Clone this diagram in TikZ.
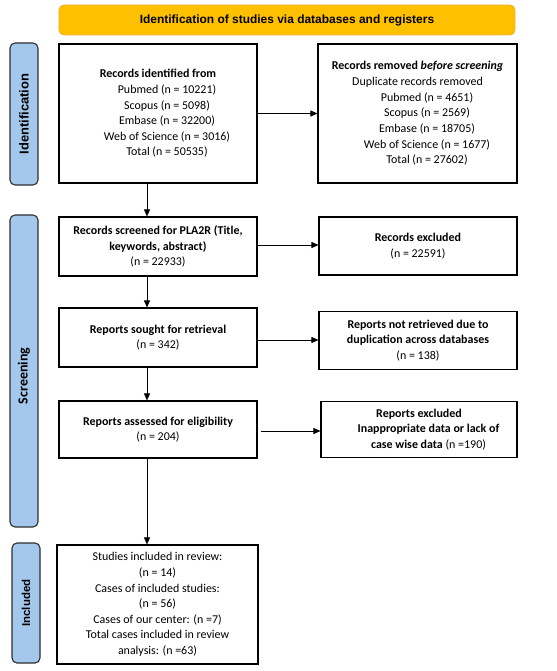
\documentclass[tikz,border=0pt]{standalone}
\usepackage{fontspec}
\setmainfont{Carlito}
\newfontfamily\arialf{Liberation Sans}
\usetikzlibrary{arrows.meta,positioning,calc}
\definecolor{hdrfill}{HTML}{FFC000}
\definecolor{hdrdraw}{HTML}{E8B23A}
\definecolor{sidefill}{HTML}{A4C8EC}
\definecolor{sidedraw}{HTML}{2F2F2F}
\begin{document}
\begin{tikzpicture}[x=1bp,y=-1bp,
  box/.style={draw=black,line width=1.1bp,fill=white,align=center,inner sep=0pt,
    font=\fontsize{12}{15.7}\selectfont},
  side/.style={draw=sidedraw,fill=sidefill,line width=1.1bp,rounded corners=5bp,
    minimum width=28bp,inner sep=0pt},
  sidetext/.style={rotate=90,font=\arialf\bfseries\fontsize{11}{13}\selectfont},
  arr/.style={line width=0.8bp,-{Triangle[length=7bp,width=6bp]}}]
\useasboundingbox (0,0) rectangle (557,671);
% header
\node[draw=hdrdraw,fill=hdrfill,rounded corners=5bp,line width=0.8bp,minimum width=456bp,minimum height=30bp,inner sep=0pt,
  font=\arialf\bfseries\fontsize{12}{14}\selectfont] (hdr) at (287,20) {Identification of studies via databases and registers};
% side labels
\node[side,minimum height=142bp] (sid) at (24,114) {};
\node[sidetext,font=\arialf\bfseries\fontsize{13}{15}\selectfont] (sidt) at (sid.center) {Identification};
\node[side,minimum height=312bp] (sscr) at (24,371) {};
\node[sidetext,font=\bfseries\fontsize{14}{16}\selectfont] (sscrt) at (24,376) {Screening};
\node[side,minimum height=120bp] (sinc) at (26,603) {};
\node[sidetext,font=\arialf\bfseries\fontsize{11.5}{13}\selectfont] (sinct) at (sinc.center) {Included};
% main column
\node[box,minimum width=198bp,minimum height=139bp] (ident) at (158,113.5) {%
  \textbf{Records identified from}\\
  \hspace*{18bp}Pubmed (n = 10221)\\
  \hspace*{18bp}Scopus (n = 5098)\\
  \hspace*{18bp}Embase (n = 32200)\\
  \hspace*{18bp}Web of Science (n = 3016)\\
  \hspace*{18bp}Total (n = 50535)};
\node[box,minimum width=199bp,minimum height=139bp] (removed) at (417.5,113.5) {%
  \textbf{Records removed \textit{before screening}}\\
  Duplicate records removed\hspace*{7bp}\\
  \hspace*{19bp}Pubmed (n = 4651)\\
  \hspace*{19bp}Scopus (n = 2569)\\
  \hspace*{19bp}Embase (n = 18705)\\
  \hspace*{19bp}Web of Science (n = 1677)\\
  \hspace*{19bp}Total (n = 27602)};
\node[box,minimum width=198bp,minimum height=59bp] (screened) at (158,246.5) {%
  \textbf{Records screened for PLA2R (Title,}\\
  \textbf{keywords, abstract)}\\
  (n = 22933)};
\node[box,minimum width=198bp,minimum height=58bp] (excluded) at (418,246) {%
  \textbf{Records excluded}\\
  (n = 22591)};
\node[box,minimum width=198bp,minimum height=59bp] (sought) at (158,337.5) {%
  \textbf{Reports sought for retrieval}\\
  (n = 342)};
\node[box,minimum width=198bp,minimum height=58bp] (notret) at (418,340.5) {%
  \textbf{Reports not retrieved due to}\\
  \textbf{duplication across databases}\\
  (n = 138)};
\node[box,minimum width=198bp,minimum height=57bp] (assessed) at (158,429.5) {%
  \textbf{Reports assessed for eligibility}\\
  (n = 204)};
\node[box,minimum width=196bp,minimum height=56bp] (repexcl) at (419,429.5) {%
  \textbf{Reports excluded}\\
  \hspace*{19bp}\textbf{Inappropriate data or lack of}\\
  \hspace*{19bp}\textbf{case wise data} (n =190)};
\node[box,minimum width=201bp,minimum height=119bp] (final) at (157.5,604.5) {%
  Studies included in review:\\
  (n = 14)\\
  Cases of included studies:\\
  (n = 56)\\
  Cases of our center: (n =7)\\
  Total cases included in review\\
  analysis: (n =63)};
% connectors
\coordinate (vx) at (147,0);
\draw[arr] (ident.south -| vx) -- (screened.north -| vx);
\draw[arr] (screened.south -| vx) -- (sought.north -| vx);
\draw[arr] (sought.south -| vx) -- (assessed.north -| vx);
\draw[arr] (assessed.south -| vx) -- (final.north -| vx);
\draw[arr] (ident.east) -- (ident.east -| removed.west);
\draw[arr] ($(screened.east)+(0,-1.5)$) -- ($(screened.east -| excluded.west)+(0,-1.5)$);
\draw[arr] ($(sought.east)+(0,2.5)$) -- ($(sought.east -| notret.west)+(0,2.5)$);
\draw[arr] ($(assessed.east)+(3,1.5)$) -- ($(assessed.east -| repexcl.west)+(0,1.5)$);
\end{tikzpicture}
\end{document}
